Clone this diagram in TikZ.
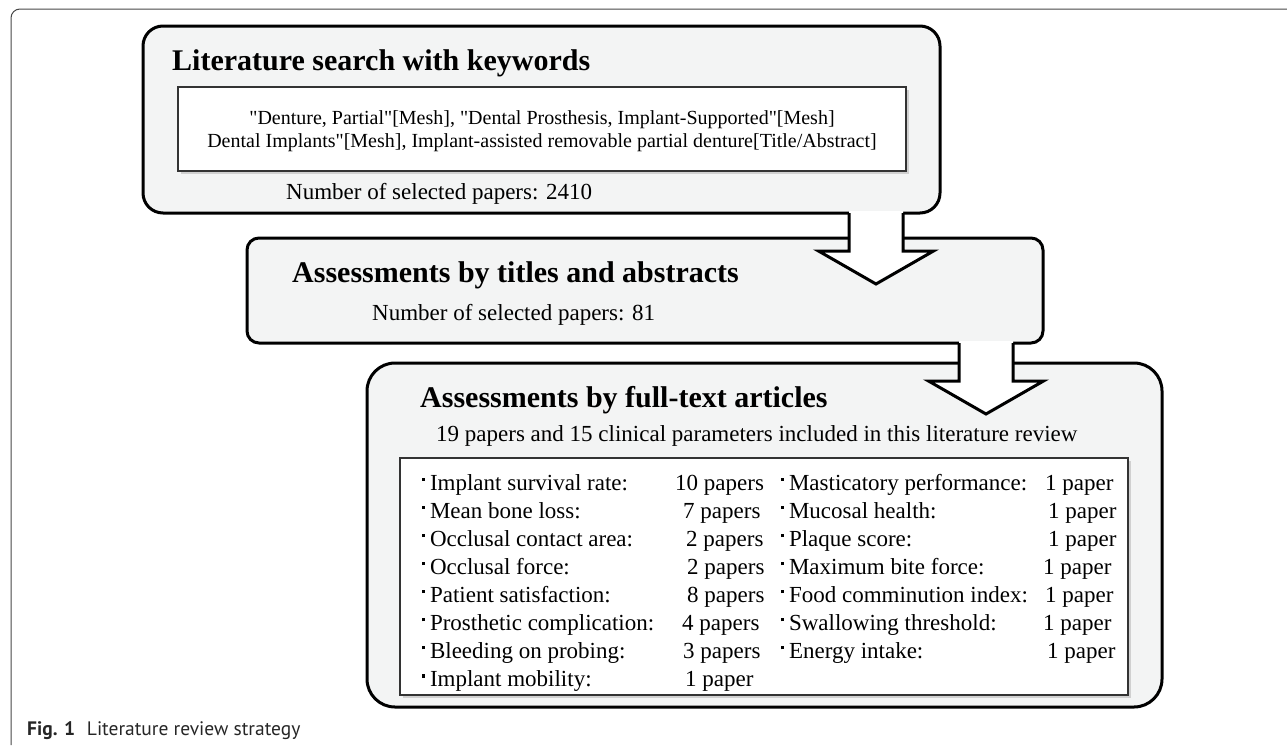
\documentclass[tikz,border=0pt]{standalone}
\usepackage{fontspec}
\setmainfont{Liberation Serif}
\newfontfamily\queryfont{Liberation Serif}
\newfontfamily\capfont{PT Sans}
\usepackage{tikz}
\definecolor{boxgray}{RGB}{243,244,244}
\definecolor{framegray}{RGB}{70,70,70}
\usetikzlibrary{shadows,calc,positioning}

\newcommand{\sqdot}{\raisebox{0.4em}{\rule{0.14em}{0.14em}}\hspace{0.2em}}
% white block arrow: #1 start on box bottom, #2 tip
\newcommand{\blockarrow}[2]{%
  \fill[white] ($(#1)+(-27,-2)$) |- ($(#2)+(-57.5,-33)$) -- (#2) -- ($(#2)+(57.5,-33)$) -| ($(#1)+(27,-2)$) -- cycle;
  \draw[fatarrow] ($(#1)+(-27,0)$) |- ($(#2)+(-57.5,-33)$) -- (#2) -- ($(#2)+(57.5,-33)$) -| ($(#1)+(27,0)$);
}

\begin{document}
\begin{tikzpicture}[
    x=1pt, y=-1pt,
    stage/.style={rectangle, draw=black, line width=3pt, fill=boxgray, anchor=north west, inner sep=0pt, outer sep=0pt},
    keybox/.style={rectangle, draw=black!80, line width=1.3pt, fill=white, anchor=north west, inner sep=0pt, outer sep=0pt, drop shadow={shadow xshift=2.5pt, shadow yshift=-2.5pt, opacity=0.3}},
    heading/.style={anchor=base west, inner sep=0pt, font=\fontsize{30}{36}\selectfont\bfseries},
    txt/.style={anchor=base west, inner sep=0pt, font=\fontsize{23}{28}\selectfont},
    querytxt/.style={inner sep=0pt, align=center, font=\queryfont\fontsize{20}{23}\selectfont},
    fatarrow/.style={draw=black, line width=3pt, line join=miter}
]
\useasboundingbox (0,0) rectangle (1287,745);
\draw[framegray, line width=1pt, rounded corners=9pt] (11,745) |- (1287,9);

% stage 1
\node[stage, rounded corners=20pt, minimum width=797pt, minimum height=187pt] (box1) at (143,26) {};
\node[keybox, minimum width=728pt, minimum height=84pt] (query) at (178,87) {};
\node[querytxt] (querytext) at ([yshift=-2pt]query.center) {"Denture, Partial"[Mesh], "Dental Prosthesis, Implant-Supported"[Mesh]\\Dental Implants"[Mesh], Implant-assisted removable partial denture[Title/Abstract]};
\node[heading] (t1) at (172,70) {Literature search with keywords};
\node[txt] (n1) at (286,199) {Number of selected papers: 2410};

% stage 2
\node[stage, rounded corners=12pt, minimum width=796pt, minimum height=105pt] (box2) at (247,238) {};
\node[heading] (t2) at (292,282) {Assessments by titles and abstracts};
\node[txt] (n2) at (372,320) {Number of selected papers: 81};

% stage 3
\node[stage, rounded corners=28pt, minimum width=795pt, minimum height=344pt] (box3) at (367,363) {};
\node[heading] (t3) at (420,407) {Assessments by full-text articles};
\node[txt] (n3) at (436,441) {19 papers and 15 clinical parameters included in this literature review};
\node[keybox, minimum width=728pt, minimum height=237pt] (params) at (400,458) {};

\node[txt] (l1) at (422,490) {\sqdot Implant survival rate:};     \node[txt] (p1) at (675,490) {10 papers};
\node[txt] (l2) at (422,518.1) {\sqdot Mean bone loss:};          \node[txt] (p2) at (683,518.1) {7 papers};
\node[txt] (l3) at (422,546.2) {\sqdot Occlusal contact area:};   \node[txt] (p3) at (686,546.2) {2 papers};
\node[txt] (l4) at (422,574.3) {\sqdot Occlusal force:};          \node[txt] (p4) at (687,574.3) {2 papers};
\node[txt] (l5) at (422,602.4) {\sqdot Patient satisfaction:};    \node[txt] (p5) at (687,602.4) {8 papers};
\node[txt] (l6) at (422,630.5) {\sqdot Prosthetic complication:}; \node[txt] (p6) at (682,630.5) {4 papers};
\node[txt] (l7) at (422,658.6) {\sqdot Bleeding on probing:};     \node[txt] (p7) at (683,658.6) {3 papers};
\node[txt] (l8) at (422,686.7) {\sqdot Implant mobility:};        \node[txt] (p8) at (685,686.7) {1 paper};

\node[txt] (r1) at (781,490) {\sqdot Masticatory performance:};   \node[txt] (q1) at (1045,490) {1 paper};
\node[txt] (r2) at (781,518.1) {\sqdot Mucosal health:};          \node[txt] (q2) at (1048,518.1) {1 paper};
\node[txt] (r3) at (781,546.2) {\sqdot Plaque score:};            \node[txt] (q3) at (1048,546.2) {1 paper};
\node[txt] (r4) at (781,574.3) {\sqdot Maximum bite force:};      \node[txt] (q4) at (1043,574.3) {1 paper};
\node[txt] (r5) at (781,602.4) {\sqdot Food comminution index:};  \node[txt] (q5) at (1045,602.4) {1 paper};
\node[txt] (r6) at (781,630.5) {\sqdot Swallowing threshold:};    \node[txt] (q6) at (1043,630.5) {1 paper};
\node[txt] (r7) at (781,658.6) {\sqdot Energy intake:};           \node[txt] (q7) at (1047,658.6) {1 paper};

% arrows between stages
\coordinate (a1) at ([xshift=-64pt]box1.south east);
\coordinate (a1tip) at ($(a1)+(0,71)$);
\coordinate (a2) at ([xshift=-57pt]box2.south east);
\coordinate (a2tip) at ($(a2)+(0,71)$);
\blockarrow{a1}{a1tip}
\blockarrow{a2}{a2tip}

\node[anchor=base west, inner sep=0pt, font=\capfont\fontsize{19.5}{23}\selectfont, text=black!85] (caption) at (27,735) {{\bfseries Fig. 1}\hspace{0.6em}Literature review strategy};
\end{tikzpicture}
\end{document}
